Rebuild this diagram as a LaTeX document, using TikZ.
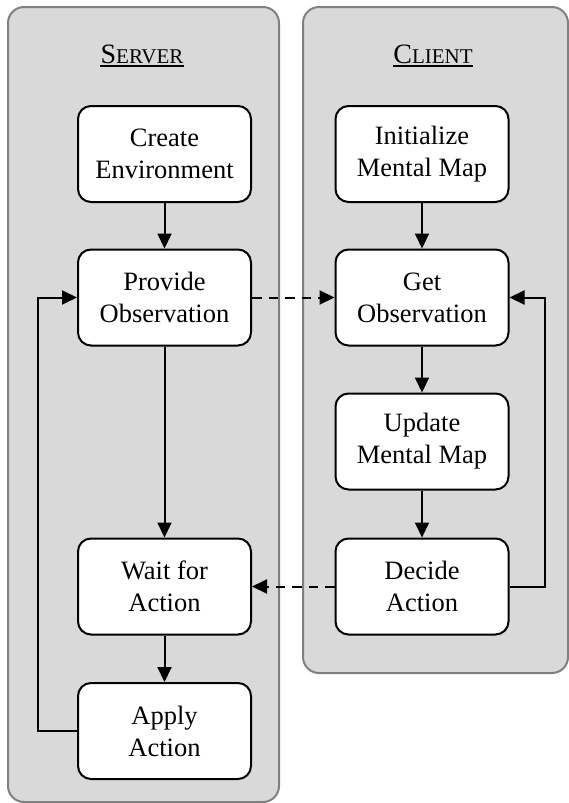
\documentclass[tikz,border=0pt]{standalone}
\usepackage{fontspec}
\setmainfont{Liberation Serif}
\usetikzlibrary{arrows.meta}

\definecolor{panelfill}{HTML}{D9D9D9}
\definecolor{panelline}{HTML}{808080}

\tikzset{
  panel/.style={draw=panelline, fill=panelfill, line width=2pt,
    rounded corners=16pt, inner sep=0pt},
  stepbox/.style={draw=black, fill=white, line width=2pt,
    rounded corners=13pt, minimum width=173pt, minimum height=96pt,
    inner sep=0pt, align=center, font=\fontsize{26.5}{32}\selectfont},
  heading/.style={inner sep=0pt, anchor=base},
  flow/.style={draw=black, line width=2pt,
    -{Triangle[length=15pt,width=14pt]}},
  message/.style={flow, dash pattern=on 9.5pt off 7pt},
}

% small caps built from two sizes
\newcommand{\capsbig}[1]{{\fontsize{28}{30}\selectfont #1}}
\newcommand{\capssmall}[1]{{\fontsize{21}{24}\selectfont #1}}

\begin{document}
\begin{tikzpicture}[x=1pt, y=-1pt]
  \useasboundingbox (0,0) rectangle (569,803);

  % the two swimlanes
  \node[panel, minimum width=271pt, minimum height=795pt] (server) at (143.5,404.5) {};
  \node[panel, minimum width=265pt, minimum height=666pt] (client) at (435.5,340) {};

  % lane headings
  \node[heading] (serverlabel) at (142,63) {\capsbig{S}\capssmall{ERVER}};
  \node[heading] (clientlabel) at (433,63) {\capsbig{C}\capssmall{LIENT}};
  \draw[line width=1.2pt] ([yshift=-3pt]serverlabel.base west) -- ([yshift=-3pt]serverlabel.base east);
  \draw[line width=1.2pt] ([yshift=-3pt]clientlabel.base west) -- ([yshift=-3pt]clientlabel.base east);

  % server steps
  \node[stepbox] (create)  at (164.5,154)   {Create\\Environment};
  \node[stepbox] (provide) at (164.5,297.5) {Provide\\Observation};
  \node[stepbox] (wait)    at (164.5,586.5) {Wait for\\Action};
  \node[stepbox] (apply)   at (164.5,731)   {Apply\\Action};

  % client steps
  \node[stepbox] (init)    at (422,154)   {Initialize\\Mental Map};
  \node[stepbox] (get)     at (422,297.5) {Get\\Observation};
  \node[stepbox] (update)  at (422,441.5) {Update\\Mental Map};
  \node[stepbox] (decide)  at (422,586.5) {Decide\\Action};

  % sequential flow
  \draw[flow] (create) -- (provide);
  \draw[flow] (provide) -- (wait);
  \draw[flow] (wait) -- (apply);
  \draw[flow] (init) -- (get);
  \draw[flow] (get) -- (update);
  \draw[flow] (update) -- (decide);

  % loops back to the observation steps
  \coordinate (serverloop) at (38,0);
  \coordinate (clientloop) at (545,0);
  \draw[flow] (apply.west) -- (serverloop |- apply.west) -- (serverloop |- provide.west) -- (provide.west);
  \draw[flow] (decide.east) -- (clientloop |- decide.east) -- (clientloop |- get.east) -- (get.east);

  % messages between server and client
  \draw[message] (provide.east) -- (get.west);
  \draw[message] (decide.west) -- (wait.east);
\end{tikzpicture}
\end{document}
